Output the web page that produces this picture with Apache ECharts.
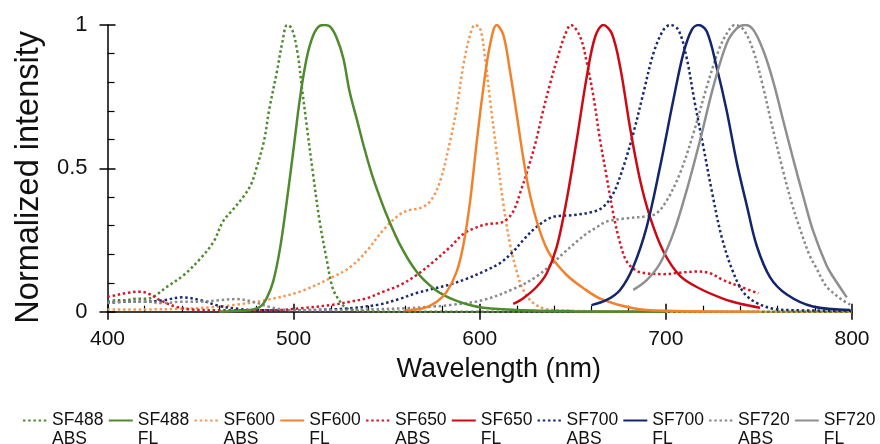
<!DOCTYPE html>
<html>
<head>
<meta charset="utf-8">
<script src="https://cdn.jsdelivr.net/npm/echarts@6/dist/echarts.min.js"></script>
<style>
  html, body { margin: 0; padding: 0; background: #ffffff; }
  #chart { width: 880px; height: 444px; }
</style>
</head>
<body>
<div id="chart"></div>
<script>
// ---- Data (wavelength nm, normalized intensity) ----
const seriesNames = ['SF488\nABS', 'SF488\nFL', 'SF600\nABS', 'SF600\nFL', 'SF650\nABS',
                     'SF650\nFL', 'SF700\nABS', 'SF700\nFL', 'SF720\nABS', 'SF720\nFL'];

const sf488Abs = [[400,0.035],[405,0.04],[410,0.04],[415,0.045],[420,0.045],[423,0.047],[432,0.087],[441,0.128],[450,0.186],[457,0.244],[462,0.314],[468,0.361],[473,0.401],[477,0.442],[480,0.5],[484,0.593],[487,0.709],[491,0.837],[494,0.942],[496.5,1.0],[499,0.988],[502,0.907],[504.5,0.779],[507,0.651],[510.5,0.477],[514,0.314],[518,0.174],[521,0.082],[525,0.035],[528.5,0.012],[535,0.003],[560,0.0],[650,0.0],[800,0.0]];
const sf488Fl = [[460,0.0],[470,0.003],[476.5,0.006],[482,0.017],[485.5,0.047],[489,0.105],[492.7,0.221],[496.3,0.384],[500,0.57],[503.4,0.744],[507,0.884],[510.6,0.965],[514.2,0.998],[516.3,1.0],[519.6,0.994],[523.2,0.954],[526.7,0.884],[530,0.77],[534,0.67],[538,0.57],[542,0.48],[546,0.405],[550,0.337],[557.2,0.233],[566,0.14],[575,0.082],[584,0.047],[593,0.026],[602,0.014],[620,0.006],[650,0.002],[700,0.0]];
const sf600Abs = [[400,0.008],[420,0.008],[440,0.01],[455,0.015],[467.6,0.023],[485.5,0.041],[503.4,0.07],[521.3,0.122],[530.3,0.155],[539.3,0.212],[548.2,0.285],[557.2,0.34],[562.5,0.355],[567.9,0.361],[573.3,0.384],[578.6,0.453],[584,0.593],[587.6,0.709],[591.2,0.86],[594.8,0.965],[597.5,1.0],[600.2,0.988],[602.9,0.884],[605.6,0.735],[609.1,0.555],[612.7,0.375],[616.3,0.235],[619.9,0.14],[623.4,0.075],[628.8,0.03],[636,0.009],[650,0.003],[700,0.0],[800,0.0]];
const sf600Fl = [[560,0.005],[569.7,0.012],[576.9,0.035],[582.3,0.07],[587.6,0.14],[591.2,0.233],[594.8,0.384],[598.4,0.593],[601.9,0.779],[605.5,0.93],[609.1,1.0],[612.7,0.965],[616.3,0.837],[619.9,0.686],[623.4,0.535],[627,0.407],[632.4,0.279],[637.8,0.198],[646.7,0.128],[655.7,0.082],[665,0.045],[682.5,0.012],[700,0.003],[750,0.0]];
const sf650Abs = [[400,0.052],[405,0.058],[410,0.065],[417.5,0.07],[423,0.06],[428,0.041],[437,0.017],[445,0.008],[460,0.005],[480,0.005],[494,0.006],[503.4,0.012],[521,0.024],[530.3,0.035],[539.3,0.047],[548.2,0.07],[557.2,0.093],[566.1,0.128],[575.1,0.174],[584,0.225],[591,0.27],[596.6,0.29],[603.8,0.305],[612.7,0.314],[618,0.35],[622,0.42],[626,0.5],[630,0.59],[634,0.7],[638,0.8],[642,0.89],[645.5,0.96],[649,1.0],[653.9,0.96],[657.5,0.87],[661.1,0.75],[664.6,0.6],[668.2,0.47],[671.8,0.34],[675.4,0.24],[679,0.175],[684.4,0.142],[689.7,0.134],[698.7,0.131],[707.6,0.136],[716.6,0.14],[723.8,0.134],[731,0.11],[740,0.087],[749.7,0.064]];
const sf650Fl = [[618,0.027],[623.4,0.047],[630.6,0.087],[636,0.134],[641.4,0.227],[646.7,0.39],[652.1,0.599],[657.5,0.82],[662,0.959],[666.4,1.0],[670.9,0.971],[675.4,0.855],[680.8,0.64],[686.1,0.46],[691.5,0.33],[698.7,0.21],[707.6,0.125],[718.4,0.08],[731,0.045],[740,0.028],[750.6,0.014]];
const sf700Abs = [[400,0.03],[410,0.035],[420,0.035],[430,0.04],[440,0.05],[450,0.04],[460,0.02],[470,0.01],[480,0.005],[500,0.005],[520,0.008],[530,0.012],[546,0.025],[557,0.045],[566,0.065],[575,0.08],[584,0.095],[593,0.115],[602,0.14],[611,0.17],[618,0.21],[623.4,0.25],[630.6,0.296],[639.6,0.331],[650.3,0.337],[661.1,0.349],[666.4,0.366],[671.8,0.413],[677.2,0.506],[682.5,0.622],[687.9,0.762],[693.3,0.901],[698.7,0.983],[702.3,1.0],[706.7,0.983],[711,0.89],[715.5,0.73],[720,0.58],[725,0.41],[730,0.26],[736,0.14],[742,0.065],[749,0.03],[758,0.01],[770,0.005],[800,0.003]];
const sf700Fl = [[660,0.023],[668.2,0.041],[675.4,0.076],[682.5,0.157],[689.7,0.296],[696.9,0.506],[704,0.738],[709.4,0.901],[713.9,0.983],[717.5,1.0],[722,0.977],[727.4,0.85],[732.7,0.7],[738.1,0.52],[743.5,0.37],[748.8,0.23],[756,0.12],[765,0.06],[779,0.018],[799,0.006]];
const sf720Abs = [[400,0.03],[410,0.035],[420,0.035],[430,0.03],[440,0.035],[450,0.035],[460,0.04],[469,0.044],[478,0.035],[488,0.015],[500,0.005],[520,0.005],[540,0.008],[560,0.012],[575,0.018],[584,0.023],[602,0.041],[620,0.085],[631,0.125],[641,0.18],[645,0.204],[652,0.244],[657.5,0.273],[663,0.295],[668,0.314],[679,0.326],[690,0.333],[695,0.343],[700.5,0.388],[707.6,0.483],[714.8,0.622],[722,0.785],[729.1,0.924],[734.5,0.988],[737,1.0],[741.6,0.985],[747,0.91],[752,0.79],[757,0.65],[763,0.49],[768,0.37],[772,0.29],[777,0.2],[781,0.15],[786,0.09],[790,0.065],[795,0.04],[799,0.025]];
const sf720Fl = [[682.5,0.076],[689.7,0.11],[696.9,0.169],[704,0.273],[711.2,0.424],[718.4,0.599],[725.5,0.785],[732.7,0.936],[738.1,0.988],[742.6,1.0],[747,0.983],[752.4,0.91],[757.8,0.8],[763.1,0.665],[768.5,0.53],[773.9,0.4],[779.2,0.28],[786.4,0.16],[790,0.12],[797.2,0.05]];

const xTicks = [400, 500, 600, 700, 800];
const yTicks = [0, 0.5, 1];

const allData = [sf488Abs, sf488Fl, sf600Abs, sf600Fl, sf650Abs, sf650Fl, sf700Abs, sf700Fl, sf720Abs, sf720Fl];
const colors = ['#4f8a2f', '#4f8a2f', '#f29a55', '#f0822e', '#d41a28', '#cc0a14', '#1a2a6c', '#14256b', '#8a8a8a', '#8f8f8f'];
const dotted = [true, false, true, false, true, false, true, false, true, false];

const FONT = 'Liberation Sans, Arial, sans-serif';
const chart = echarts.init(document.getElementById('chart'), null, { renderer: 'canvas' });

const series = allData.map((d, i) => ({
  name: seriesNames[i],
  type: 'line',
  data: d,
  xAxisIndex: 0,
  yAxisIndex: 0,
  smooth: 0.35,
  symbol: 'none',
  lineStyle: {
    color: colors[i],
    width: 2.5,
    type: dotted[i] ? [2.5, 2.7] : 'solid'
  },
  itemStyle: { color: colors[i] },
  z: dotted[i] ? 2 : 3
}));

const axisBlack = { color: '#000', width: 1.5 };

chart.setOption({
  animation: false,
  backgroundColor: '#ffffff',
  grid: { left: 107.5, right: 28, top: 25, bottom: 132.3, containLabel: false },
  legend: {
    data: seriesNames,
    left: 22,
    top: 392,
    width: 900,
    padding: 0,
    itemWidth: 24,
    itemHeight: 10,
    itemGap: 4.2,
    itemStyle: { opacity: 0 },
    formatter: function (name) { return '\n' + name; },
    textStyle: { fontFamily: FONT, fontSize: 17.5, lineHeight: 19, color: '#111' }
  },
  xAxis: [{
    type: 'value', min: xTicks[0], max: xTicks[xTicks.length - 1], interval: 100,
    position: 'bottom',
    name: 'Wavelength (nm)', nameLocation: 'middle', nameGap: 44,
    nameTextStyle: { fontFamily: FONT, fontSize: 27, color: '#111', padding: [0, 0, 0, 38] },
    axisLine: { show: true, onZero: false, lineStyle: axisBlack },
    axisTick: { show: true, inside: false, length: 8, lineStyle: axisBlack },
    axisLabel: { fontFamily: FONT, fontSize: 21, color: '#111', margin: 17 },
    splitLine: { show: false }
  }, {
    type: 'value', min: xTicks[0], max: xTicks[xTicks.length - 1], interval: 100,
    position: 'bottom',
    axisLine: { show: false },
    axisTick: { show: true, inside: true, length: 8, lineStyle: axisBlack },
    minorTick: { show: true, splitNumber: 5, length: 6, lineStyle: { color: '#000', width: 1.2 } },
    axisLabel: { show: false },
    splitLine: { show: false }
  }],
  yAxis: [{
    type: 'value', min: yTicks[0], max: yTicks[yTicks.length - 1], interval: 0.5,
    position: 'left',
    name: 'Normalized intensity', nameLocation: 'middle', nameGap: 62,
    nameTextStyle: { fontFamily: FONT, fontSize: 32.5, color: '#111', padding: [0, 18, 0, 0] },
    axisLine: { show: true, onZero: false, lineStyle: axisBlack },
    axisTick: { show: true, inside: false, length: 8, lineStyle: axisBlack },
    axisLabel: { fontFamily: FONT, fontSize: 22, color: '#111', margin: 20 },
    splitLine: { show: false }
  }, {
    type: 'value', min: yTicks[0], max: yTicks[yTicks.length - 1], interval: 0.5,
    position: 'left',
    axisLine: { show: false },
    axisTick: { show: true, inside: true, length: 8, lineStyle: axisBlack },
    minorTick: { show: true, splitNumber: 5, length: 7, lineStyle: { color: '#000', width: 1.2 } },
    axisLabel: { show: false },
    splitLine: { show: false }
  }],
  series: series
});
</script>
</body>
</html>
